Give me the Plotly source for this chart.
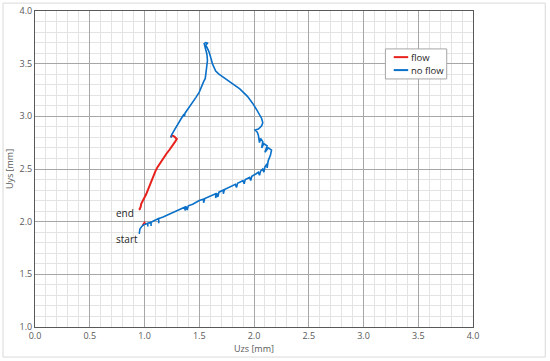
import plotly.graph_objects as go

# no flow (blue) path
nf_x = [0.952, 0.958, 0.975, 0.99, 1.02, 1.03, 1.03, 1.03, 1.06, 1.06, 1.06, 1.10, 1.13, 1.13, 1.13,
        1.17, 1.22, 1.28, 1.33, 1.37, 1.37, 1.38, 1.39, 1.40, 1.44, 1.50, 1.54, 1.54, 1.55, 1.60,
        1.65, 1.65, 1.66, 1.67, 1.68, 1.72, 1.72, 1.73, 1.78, 1.83, 1.84, 1.85, 1.90, 1.91, 1.92,
        1.96, 1.97, 1.98, 2.02, 2.04, 2.05, 2.06, 2.08, 2.09, 2.10, 2.12, 2.12, 2.13, 2.15, 2.16,
        2.13, 2.10, 2.12, 2.09, 2.07, 2.08, 2.06, 2.05, 2.04, 2.03, 2.01, 2.04, 2.07, 2.08, 2.07,
        2.05, 2.02, 1.99, 1.94, 1.87, 1.80, 1.74, 1.68, 1.65, 1.63, 1.62, 1.61, 1.60, 1.59, 1.575,
        1.56, 1.575, 1.56, 1.545, 1.55, 1.56, 1.57, 1.575, 1.565, 1.56, 1.555, 1.54, 1.52, 1.50,
        1.47, 1.43, 1.39, 1.37, 1.365, 1.36, 1.33, 1.30, 1.28, 1.25, 1.24]
nf_y = [1.885, 1.93, 1.955, 1.97, 1.98, 1.985, 1.955, 1.985, 1.995, 1.96, 1.995, 2.015, 2.03, 1.985, 2.03,
        2.045, 2.07, 2.10, 2.125, 2.14, 2.105, 2.145, 2.11, 2.15, 2.165, 2.20, 2.215, 2.18, 2.22, 2.245,
        2.265, 2.225, 2.27, 2.235, 2.28, 2.30, 2.265, 2.305, 2.33, 2.355, 2.325, 2.365, 2.39, 2.36, 2.40,
        2.42, 2.39, 2.43, 2.455, 2.47, 2.44, 2.48, 2.50, 2.47, 2.52, 2.55, 2.51, 2.58, 2.63, 2.68,
        2.70, 2.66, 2.72, 2.74, 2.70, 2.76, 2.79, 2.75, 2.82, 2.85, 2.87, 2.88, 2.91, 2.94, 2.98,
        3.02, 3.07, 3.12, 3.19, 3.26, 3.31, 3.35, 3.40, 3.43, 3.47, 3.50, 3.54, 3.58, 3.61, 3.645,
        3.675, 3.695, 3.70, 3.69, 3.665, 3.63, 3.59, 3.53, 3.46, 3.40, 3.36, 3.33, 3.28, 3.23,
        3.18, 3.12, 3.06, 3.03, 3.00, 3.02, 2.97, 2.92, 2.88, 2.83, 2.80]

# flow (red) path
fl_x = [1.24, 1.25, 1.27, 1.295, 1.28, 1.26, 1.23, 1.20, 1.17, 1.14, 1.12, 1.10, 1.085, 1.07, 1.06,
        1.04, 1.03, 1.015, 1.0, 0.985, 0.97, 0.965, 0.955, 0.96, None, 0.985, 1.0, 1.01]
fl_y = [2.80, 2.82, 2.81, 2.785, 2.76, 2.725, 2.685, 2.645, 2.60, 2.56, 2.52, 2.48, 2.44, 2.40, 2.37,
        2.33, 2.30, 2.26, 2.23, 2.20, 2.17, 2.14, 2.12, 2.11, None, 1.965, 1.99, 1.975]

labels = ["end", "start"]
label_x = [0.82, 0.84]
label_y = [2.08, 1.84]

series_names = ["flow", "no flow"]
RED = "#E8211D"
BLUE = "#0A70C8"
FONT = "Open Sans"
GREY = "#595959"

fig = go.Figure()
fig.add_trace(go.Scatter(x=fl_x, y=fl_y, mode="lines", name=series_names[0],
                         line=dict(color=RED, width=2)))
fig.add_trace(go.Scatter(x=nf_x, y=nf_y, mode="lines", name=series_names[1],
                         line=dict(color=BLUE, width=1.6)))

for t, x, y in zip(labels, label_x, label_y):
    fig.add_annotation(x=x, y=y, text=t, showarrow=False,
                       font=dict(family=FONT, size=10, color="#262626"))

# outer chart border
fig.add_shape(type="rect", xref="paper", yref="paper",
              x0=-0.073, x1=1.165, y0=-0.095, y1=1.025,
              line=dict(color="#D9D9D9", width=1))

# compact legend box like Excel's
fig.add_shape(type="rect", xref="paper", yref="paper",
              x0=0.800, x1=0.940, y0=0.785, y1=0.880,
              fillcolor="white", line=dict(color="#A6A6A6", width=1), layer="above")
for name, color, ly in zip(series_names, [RED, BLUE], [0.854, 0.813]):
    fig.add_shape(type="line", xref="paper", yref="paper",
                  x0=0.819, x1=0.852, y0=ly, y1=ly,
                  line=dict(color=color, width=2), layer="above")
    fig.add_annotation(xref="paper", yref="paper", x=0.853, y=ly, text=name,
                       xanchor="left", yanchor="middle", showarrow=False,
                       font=dict(family=FONT, size=9.5, color="#262626"))

axis = dict(
    dtick=0.5, tickformat=".1f", automargin=False,
    showgrid=True, gridcolor="#A6A6A6", gridwidth=1,
    minor=dict(dtick=0.1, showgrid=True, gridcolor="#E3E3E3", gridwidth=1),
    showline=True, linecolor=GREY, linewidth=1, mirror=True,
    zeroline=False, ticks="", tickfont=dict(family=FONT, size=9, color=GREY),
)
fig.update_xaxes(range=[0, 4], **axis,
                 title=dict(text="Uzs [mm]", standoff=4,
                            font=dict(family=FONT, size=9, color=GREY)))
fig.update_yaxes(range=[1, 4], **axis,
                 title=dict(text="Uys [mm]", standoff=4,
                            font=dict(family=FONT, size=9, color=GREY)))

fig.update_layout(
    width=550, height=361,
    margin=dict(l=35, r=77, t=11, b=34),
    paper_bgcolor="white", plot_bgcolor="white",
    showlegend=False,
)

fig.write_html("out.html", config={"displayModeBar": False},
               post_script="document.body.style.margin='0px';")
